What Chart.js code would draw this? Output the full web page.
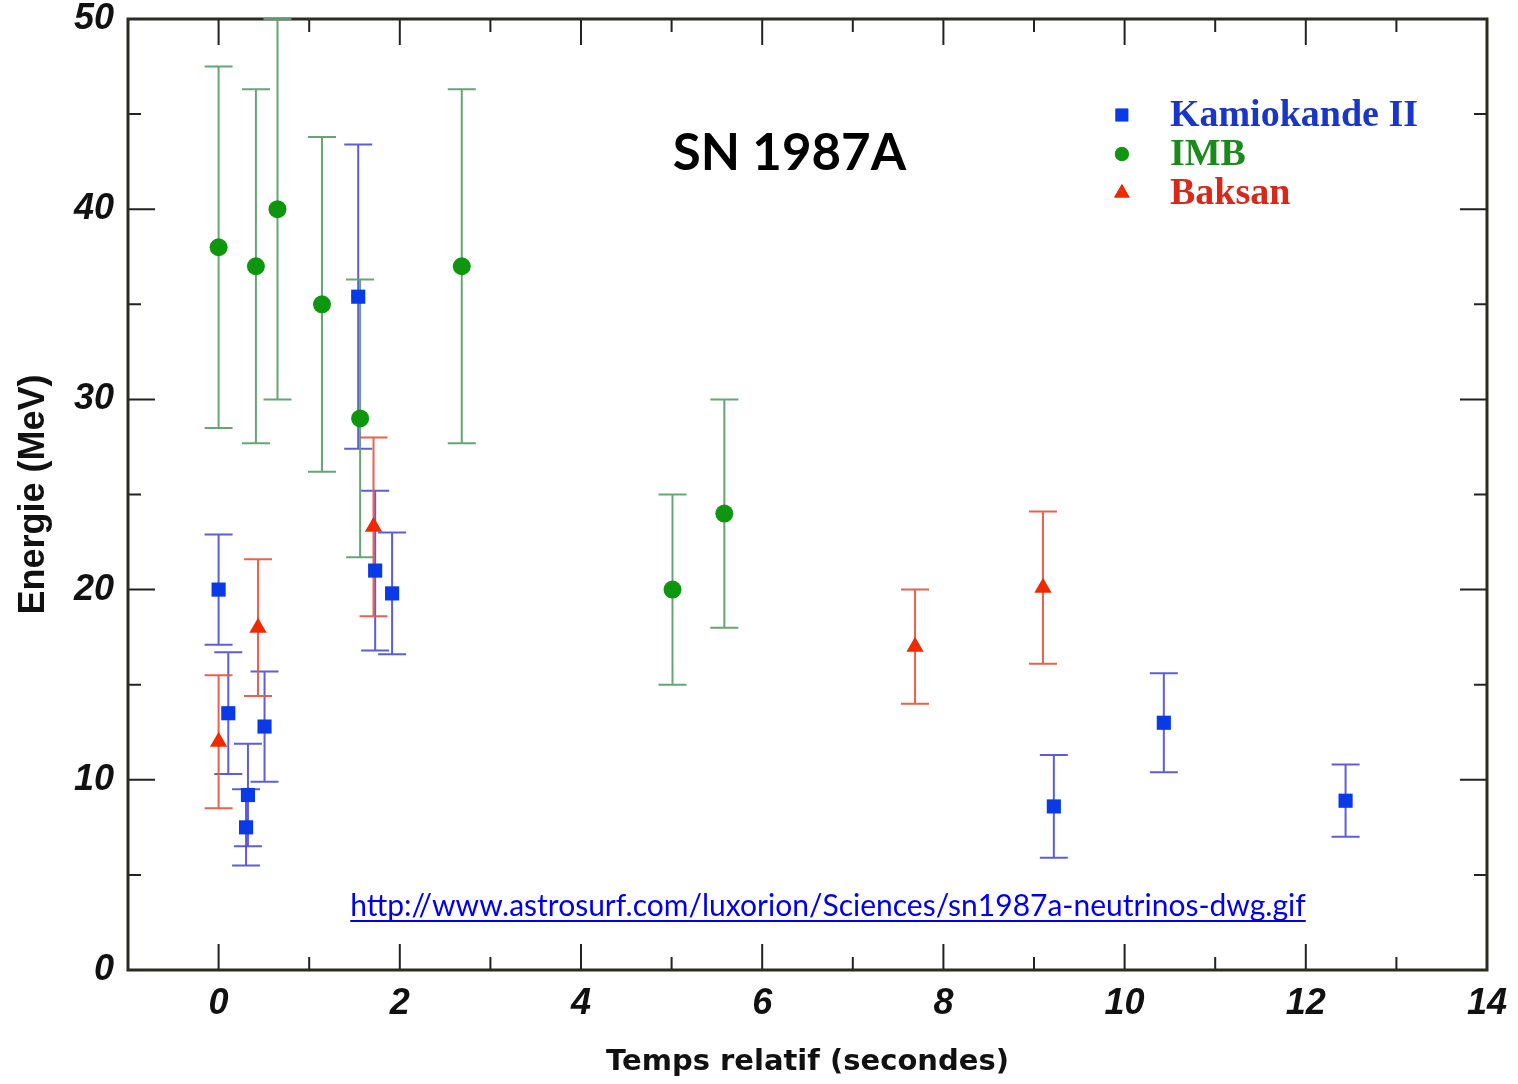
<!DOCTYPE html>
<html>
<head>
<meta charset="utf-8">
<script src="https://cdn.jsdelivr.net/npm/chart.js@4.4.1/dist/chart.umd.min.js"></script>
<style>
    html, body { margin: 0; padding: 0; background: #fff; }
    canvas { display: block; }
</style>
</head>
<body>
<canvas id="grafico" width="1518" height="1084"></canvas>
<script>
// Kamiokande II : temps (s), energie (MeV), erreur (MeV)
const kamTemps = [0, 0.107, 0.303, 0.324, 0.507, 1.541, 1.728, 1.915, 9.219, 10.433, 12.439];
const kamEnergie = [20.0, 13.5, 7.5, 9.2, 12.8, 35.4, 21.0, 19.8, 8.6, 13.0, 8.9];
const kamErreur = [2.9, 3.2, 2.0, 2.7, 2.9, 8.0, 4.2, 3.2, 2.7, 2.6, 1.9];

// IMB
const imbTemps = [0, 0.412, 0.650, 1.141, 1.562, 2.684, 5.010, 5.582];
const imbEnergie = [38, 37, 40, 35, 29, 37, 20, 24];
const imbErreur = [9.5, 9.3, 10, 8.8, 7.3, 9.3, 5, 6];

// Baksan
const bakTemps = [0, 0.435, 1.710, 7.687, 9.099];
const bakEnergie = [12.0, 18.0, 23.3, 17.0, 20.1];
const bakErreur = [3.5, 3.6, 4.7, 3.0, 4.0];

// Graduations
const xTicks = [0, 2, 4, 6, 8, 10, 12, 14];
const xMinor = [1, 3, 5, 7, 9, 11, 13];
const yTicks = [0, 10, 20, 30, 40, 50];
const yMinor = [5, 15, 25, 35, 45];

const titre = 'SN 1987A';
const source = 'http://www.astrosurf.com/luxorion/Sciences/sn1987a-neutrinos-dwg.gif';

function puntos(t, e) {
    return t.map((v, i) => ({ x: v, y: e[i] }));
}

// Barres d'erreur verticales avec petits traits
const barrasError = {
    id: 'barrasError',
    beforeDatasetsDraw(chart) {
        const ctx = chart.ctx;
        const xs = chart.scales.x;
        const ys = chart.scales.y;
        chart.data.datasets.forEach(ds => {
            ctx.save();
            ctx.strokeStyle = ds.errorColor;
            ctx.lineWidth = 2;
            ds.data.forEach((p, i) => {
                const px = xs.getPixelForValue(p.x);
                const haut = ys.getPixelForValue(p.y + ds.errores[i]);
                const bas = ys.getPixelForValue(p.y - ds.errores[i]);
                ctx.beginPath();
                ctx.moveTo(px, haut); ctx.lineTo(px, bas);
                ctx.moveTo(px - 14, haut); ctx.lineTo(px + 14, haut);
                ctx.moveTo(px - 14, bas); ctx.lineTo(px + 14, bas);
                ctx.stroke();
            });
            ctx.restore();
        });
    }
};

// Cadre et graduations tournées vers l'intérieur, sur les quatre côtés
const marco = {
    id: 'marco',
    beforeDatasetsDraw(chart) {
        const ctx = chart.ctx;
        const a = chart.chartArea;
        const xs = chart.scales.x;
        const ys = chart.scales.y;
        ctx.save();
        ctx.strokeStyle = '#222';
        ctx.lineWidth = 2;
        ctx.beginPath();
        const trazoX = (v, l) => {
            const px = xs.getPixelForValue(v);
            ctx.moveTo(px, a.bottom); ctx.lineTo(px, a.bottom - l);
            ctx.moveTo(px, a.top); ctx.lineTo(px, a.top + l);
        };
        const trazoY = (v, l) => {
            const py = ys.getPixelForValue(v);
            ctx.moveTo(a.left, py); ctx.lineTo(a.left + l, py);
            ctx.moveTo(a.right, py); ctx.lineTo(a.right - l, py);
        };
        xTicks.forEach(v => trazoX(v, 26));
        xMinor.forEach(v => trazoX(v, 13));
        yTicks.forEach(v => trazoY(v, 27));
        yMinor.forEach(v => trazoY(v, 13));
        ctx.stroke();
        ctx.strokeStyle = '#2b2b1f';
        ctx.lineWidth = 3;
        ctx.strokeRect(a.left, a.top, a.right - a.left, a.bottom - a.top);
        ctx.restore();
    }
};

// Titre, légende et lien
const anotaciones = {
    id: 'anotaciones',
    afterDraw(chart) {
        const ctx = chart.ctx;
        const a = chart.chartArea;
        const xs = chart.scales.x;
        ctx.save();
        ctx.fillStyle = '#000';
        ctx.font = 'bold 51px Lato';
        ctx.textAlign = 'center';
        ctx.textBaseline = 'alphabetic';
        ctx.fillText(titre, xs.getPixelForValue(6.3), a.top + 151);

        // légende
        const lx = xs.getPixelForValue(9.97);
        const tx = xs.getPixelForValue(10.5);
        ctx.textAlign = 'left';
        ctx.textBaseline = 'middle';
        ctx.font = 'bold 38px "Liberation Serif"';
        chart.data.datasets.forEach((ds, i) => {
            const ly = a.top + 96 + i * 39;
            ctx.fillStyle = ds.backgroundColor;
            Chart.helpers.drawPoint(ctx, { pointStyle: ds.pointStyle, radius: ds.pointStyle === 'circle' ? 7 : 9, rotation: 0, borderWidth: 0 }, lx, ly);
            ctx.fill();
            ctx.fillStyle = ds.textColor;
            ctx.fillText(ds.label, tx, ly + 1);
        });

        // lien
        ctx.font = '30px Lato';
        ctx.fillStyle = '#0000ee';
        ctx.textAlign = 'center';
        ctx.textBaseline = 'alphabetic';
        const ux = 828;
        const uy = a.bottom - 54;
        ctx.fillText(source, ux, uy);
        const w = ctx.measureText(source).width;
        ctx.fillRect(ux - w / 2, uy + 4, w, 2);
        ctx.restore();
    }
};

const fuenteEje = { family: '"Liberation Sans", Arial, sans-serif', size: 36, weight: 'bold', style: 'italic' };

new Chart(document.getElementById('grafico'), {
    type: 'scatter',
    data: {
        datasets: [
            {
                label: 'Kamiokande II',
                data: puntos(kamTemps, kamEnergie),
                errores: kamErreur,
                errorColor: 'rgba(75, 75, 215, 0.9)',
                textColor: '#1a36c8',
                pointStyle: 'rect',
                pointRadius: 10,
                backgroundColor: '#0a3ae8',
                borderColor: '#0a3ae8',
                borderWidth: 0
            },
            {
                label: 'IMB',
                data: puntos(imbTemps, imbEnergie),
                errores: imbErreur,
                errorColor: 'rgba(95, 160, 110, 0.95)',
                textColor: '#1a8a1a',
                pointStyle: 'circle',
                pointRadius: 9,
                backgroundColor: '#0e960e',
                borderColor: '#0e960e',
                borderWidth: 0
            },
            {
                label: 'Baksan',
                data: puntos(bakTemps, bakEnergie),
                errores: bakErreur,
                errorColor: 'rgba(232, 90, 70, 0.95)',
                textColor: '#d8281a',
                pointStyle: 'triangle',
                pointRadius: 10,
                backgroundColor: '#f02a00',
                borderColor: '#f02a00',
                borderWidth: 0
            }
        ]
    },
    options: {
        responsive: false,
        animation: false,
        layout: { padding: { top: 19, right: 31, left: 0, bottom: 0 } },
        plugins: {
            legend: { display: false },
            tooltip: { enabled: false }
        },
        scales: {
            x: {
                type: 'linear',
                min: -1,
                max: 14,
                afterBuildTicks: s => { s.ticks = xTicks.map(v => ({ value: v })); },
                afterFit: s => { s.height = 114; s.paddingLeft = 0; s.paddingRight = 0; },
                grid: { display: false, drawTicks: false },
                border: { display: false },
                ticks: { font: fuenteEje, color: '#111', padding: 12, maxRotation: 0, autoSkip: false },
                title: {
                    display: true,
                    text: 'Temps relatif (secondes)',
                    color: '#111',
                    font: { family: '"DejaVu Sans", sans-serif', size: 29, weight: 'bold' },
                    padding: { top: 0, bottom: 4 }
                }
            },
            y: {
                type: 'linear',
                min: 0,
                max: 50,
                afterBuildTicks: s => { s.ticks = yTicks.map(v => ({ value: v })); },
                afterFit: s => { s.width = 128; s.paddingTop = 0; s.paddingBottom = 0; },
                grid: { display: false, drawTicks: false },
                border: { display: false },
                ticks: { font: fuenteEje, color: '#111', padding: 14 },
                title: {
                    display: true,
                    text: 'Energie (MeV)',
                    color: '#111',
                    font: { family: '"Liberation Sans", sans-serif', size: 36, weight: 'bold' },
                    padding: { top: 12, bottom: 0 }
                }
            }
        }
    },
    plugins: [marco, barrasError, anotaciones]
});
</script>
</body>
</html>
